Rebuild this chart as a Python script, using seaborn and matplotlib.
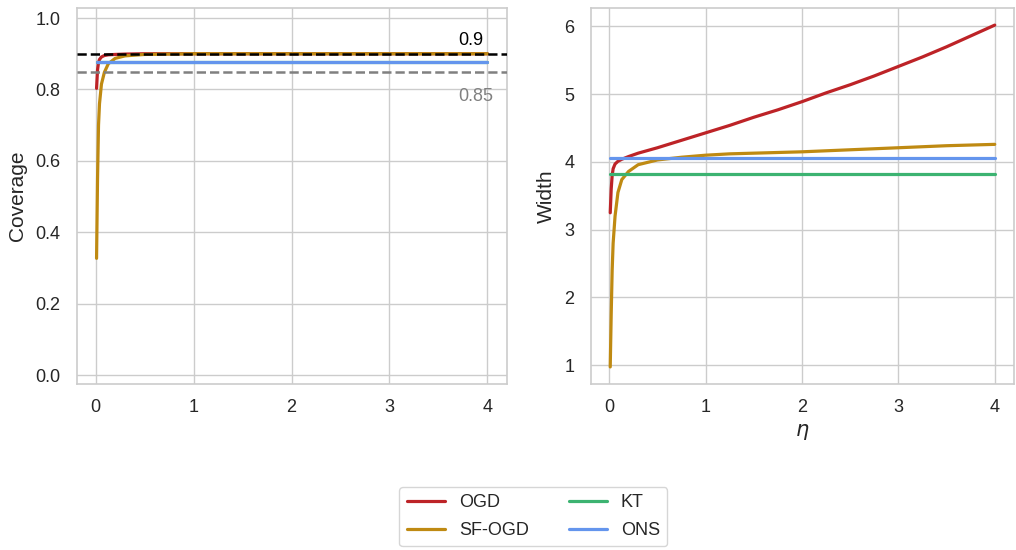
import numpy as np
import pandas as pd
import matplotlib
matplotlib.use("Agg")
import matplotlib.pyplot as plt
import seaborn as sns
from matplotlib.lines import Line2D

sns.set_theme(style="whitegrid")
plt.rcParams['font.family'] = ['Liberation Sans', 'DejaVu Sans']

methods = ["OGD", "SF-OGD", "KT", "ONS"]
colors = {"OGD": "#bd2327", "SF-OGD": "#bf8a12", "KT": "#3cb371", "ONS": "#6495ed"}

eta_grid = [0.01, 0.02, 0.03, 0.04, 0.06, 0.09, 0.13, 0.2, 0.3, 0.5, 0.75,
            1.0, 1.25, 1.5, 1.75, 2.0, 2.25, 2.5, 2.75, 3.0, 3.25, 3.5, 3.75, 4.0]
eta_const = [0.01, 4.0]

cov_ogd = [0.803, 0.855, 0.875, 0.884, 0.891, 0.895, 0.897, 0.898, 0.899, 0.900, 0.900,
           0.900, 0.900, 0.900, 0.900, 0.900, 0.900, 0.900, 0.900, 0.900, 0.900, 0.900, 0.900, 0.900]
cov_sfogd = [0.327, 0.55, 0.70, 0.76, 0.815, 0.848, 0.872, 0.887, 0.894, 0.898, 0.899,
             0.900, 0.900, 0.900, 0.900, 0.900, 0.900, 0.900, 0.900, 0.900, 0.900, 0.900, 0.900, 0.900]
cov_kt = [0.876, 0.876]
cov_ons = [0.878, 0.878]

wid_ogd = [3.25, 3.60, 3.80, 3.90, 3.97, 4.01, 4.04, 4.08, 4.13, 4.21, 4.32,
           4.43, 4.54, 4.66, 4.77, 4.89, 5.02, 5.14, 5.27, 5.41, 5.55, 5.70, 5.86, 6.02]
wid_sfogd = [0.975, 1.75, 2.40, 2.80, 3.20, 3.55, 3.74, 3.86, 3.96, 4.03, 4.07,
             4.10, 4.12, 4.13, 4.14, 4.15, 4.165, 4.18, 4.195, 4.21, 4.225, 4.24, 4.25, 4.26]
wid_kt = [3.82, 3.82]
wid_ons = [4.055, 4.055]

target_hi = 0.9
target_lo = 0.85


def frame(series):
    rows = []
    for name, (x, y) in series.items():
        for a, b in zip(x, y):
            rows.append({"eta": a, "value": b, "method": name})
    return pd.DataFrame(rows)


cov_df = frame({"OGD": (eta_grid, cov_ogd), "SF-OGD": (eta_grid, cov_sfogd),
                "KT": (eta_const, cov_kt), "ONS": (eta_const, cov_ons)})
wid_df = frame({"OGD": (eta_grid, wid_ogd), "SF-OGD": (eta_grid, wid_sfogd),
                "KT": (eta_const, wid_kt), "ONS": (eta_const, wid_ons)})

fig = plt.figure(figsize=(10.16, 5.5), dpi=100)
ax1 = fig.add_axes([0.0758, 0.3018, 0.4232, 0.6836])
ax2 = fig.add_axes([0.5817, 0.3018, 0.4163, 0.6836])

for ax, df in [(ax1, cov_df), (ax2, wid_df)]:
    sns.lineplot(data=df, x="eta", y="value", hue="method", hue_order=methods,
                 palette=colors, linewidth=2.3, ax=ax, legend=False, sort=False)

ax1.axhline(target_hi, color="black", ls="--", lw=1.8, zorder=5)
ax1.axhline(target_lo, color="gray", ls="--", lw=1.8, zorder=5)
ax1.text(3.70, target_hi + 0.012, "0.9", color="black", fontsize=13, ha="left", va="bottom")
ax1.text(3.70, target_lo - 0.045, "0.85", color="gray", fontsize=13, ha="left", va="top")
ax1.set_ylim(-0.025, 1.028)
ax1.set_yticks([0.0, 0.2, 0.4, 0.6, 0.8, 1.0])
ax1.set_xticks([0, 1, 2, 3, 4])
ax1.set_ylabel("Coverage", fontsize=15, labelpad=6)
ax1.set_xlabel("")

ax2.set_xticks([0, 1, 2, 3, 4])
ax2.set_yticks([1, 2, 3, 4, 5, 6])
ax2.set_ylabel("Width", fontsize=15, labelpad=6)
ax2.set_xlabel(r"$\eta$", fontsize=15)

for ax in (ax1, ax2):
    ax.tick_params(labelsize=13)
    ax.tick_params(axis="y", pad=6)
    ax.tick_params(axis="x", pad=5)
    for s in ax.spines.values():
        s.set_color("#cccccc")
        s.set_linewidth(1.2)

handles = [Line2D([0], [0], color=colors[m], lw=2.3) for m in methods]
fig.legend(handles, methods, loc="lower center", ncol=2, bbox_to_anchor=(0.525, -0.01),
           fontsize=13, frameon=True, columnspacing=2.2, handlelength=2.1,
           handletextpad=0.8, labelspacing=0.6)

fig.savefig("out.png", dpi=100)
